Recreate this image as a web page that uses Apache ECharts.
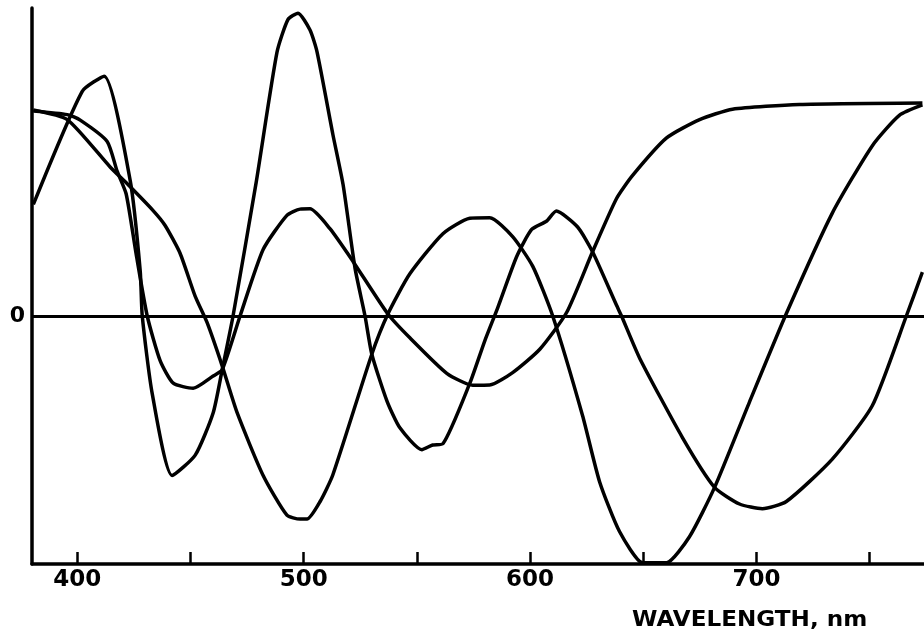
<!DOCTYPE html>
<html>
<head>
<meta charset="utf-8">
<script src="https://cdn.jsdelivr.net/npm/echarts@6/dist/echarts.min.js"></script>
<style>
  html, body { margin: 0; padding: 0; background: #fff; }
  #chart { width: 924px; height: 640px; }
</style>
</head>
<body>
<div id="chart"></div>
<script>
// wavelength (nm), relative amplitude (0 = zero line, -1 = bottom axis)
const curveA = [
  [380.6, 0.45], [402.2, 0.906], [411.9, 0.967], [423.4, 0.545], [427.8, 0.182], [428.7, 0.0],
  [433.1, -0.313], [441.9, -0.643], [452.1, -0.561], [460.0, -0.391], [464.0, -0.217],
  [468.8, 0.0], [479.0, 0.538], [488.2, 1.063], [493.1, 1.196], [497.5, 1.221], [502.8, 1.153],
  [505.9, 1.065], [512.9, 0.732], [517.4, 0.53], [522.7, 0.192], [527.1, 0.0], [530.1, -0.154],
  [536.8, -0.343], [542.5, -0.451], [552.2, -0.539], [557.0, -0.52], [561.5, -0.515],
  [573.4, -0.271], [580.0, -0.10], [585.7, 0.033], [594.1, 0.24], [600.7, 0.349],
  [607.2, 0.382], [611.6, 0.423], [621.0, 0.359], [627.6, 0.259], [638.2, 0.043],
  [640.4, 0.0], [648.4, -0.17], [667.3, -0.49], [681.5, -0.691], [692.5, -0.758],
  [702.6, -0.777], [713.2, -0.748], [733.5, -0.577], [751.2, -0.361], [766.2, 0.0],
  [773.3, 0.177]
];
const curveB = [
  [380.6, 0.831], [395.6, 0.792], [414.6, 0.6], [422.5, 0.529], [433.5, 0.425],
  [438.8, 0.365], [445.4, 0.253], [452.1, 0.079], [457.4, -0.028], [464.0, -0.201],
  [470.6, -0.39], [482.1, -0.643], [492.6, -0.803], [498.4, -0.819], [501.5, -0.819],
  [507.2, -0.749], [512.9, -0.64], [530.1, -0.154], [537.2, 0.008], [546.9, 0.17],
  [561.5, 0.332], [573.4, 0.394], [582.2, 0.396], [592.3, 0.32], [601.2, 0.2], [610.0, 0.0],
  [623.2, -0.402], [630.7, -0.668], [639.5, -0.869], [649.7, -0.995], [655.0, -0.995],
  [660.3, -0.995], [670.4, -0.89], [681.5, -0.691], [696.9, -0.347], [713.2, 0.01],
  [733.5, 0.415], [751.2, 0.687], [763.1, 0.809], [773.3, 0.851]
];
const curveC = [
  [380.6, 0.827], [395.6, 0.812], [401.3, 0.79], [413.2, 0.704], [417.6, 0.584],
  [421.6, 0.492], [426.0, 0.25], [430.9, 0.0], [436.6, -0.18], [442.4, -0.271],
  [451.2, -0.291], [460.0, -0.242], [464.0, -0.217], [471.9, 0.0], [482.1, 0.268],
  [492.6, 0.406], [498.4, 0.431], [502.8, 0.432], [511.6, 0.352], [521.8, 0.22],
  [537.2, 0.008], [546.9, -0.088], [563.2, -0.231], [574.7, -0.279], [582.2, -0.278],
  [592.3, -0.228], [604.3, -0.134], [616.2, 0.015], [627.6, 0.259], [638.2, 0.474],
  [645.3, 0.567], [660.3, 0.718], [674.9, 0.792], [689.4, 0.834], [719.0, 0.853],
  [773.3, 0.859]
];
const tickValues = [400, 450, 500, 550, 600, 650, 700, 750];
const labelValues = [400, 500, 600, 700];
const yLabelValues = [0];
const axisTitle = 'WAVELENGTH, nm';

const chart = echarts.init(document.getElementById('chart'));

const lineSeries = (data) => ({
  type: 'line',
  data: data,
  showSymbol: false,
  smooth: 0.2,
  clip: false,
  lineStyle: { color: '#000', width: 3.5, join: 'round' },
  silent: true
});

const series = [curveA, curveB, curveC].map(lineSeries);
// zero line
series[0].markLine = {
  silent: true,
  symbol: 'none',
  label: { show: false },
  lineStyle: { color: '#000', width: 3, type: 'solid' },
  data: [{ yAxis: 0 }]
};

const option = {
  backgroundColor: '#fff',
  animation: false,
  grid: { left: 32, right: 0, top: 8, bottom: 76 },
  xAxis: {
    type: 'value',
    min: 380,
    max: 774,
    axisLine: { show: true, onZero: false, lineStyle: { color: '#000', width: 3.5 } },
    axisTick: {
      show: true, inside: true, length: 12, customValues: tickValues,
      lineStyle: { color: '#000', width: 2.5 }
    },
    axisLabel: {
      customValues: labelValues,
      margin: 5,
      color: '#000',
      fontFamily: 'DejaVu Sans',
      fontWeight: 'bold',
      fontSize: 23
    },
    splitLine: { show: false }
  },
  yAxis: {
    type: 'value',
    min: -1,
    max: 1.242,
    axisLine: { show: true, onZero: false, lineStyle: { color: '#000', width: 3.5 } },
    axisTick: { show: false },
    axisLabel: {
      customValues: yLabelValues,
      margin: 7,
      color: '#000',
      fontFamily: 'DejaVu Sans',
      fontWeight: 'bold',
      fontSize: 22
    },
    splitLine: { show: false }
  },
  graphic: [{
    type: 'text',
    left: 632,
    top: 610,
    scaleX: 1.1,
    style: {
      text: axisTitle,
      fill: '#000',
      font: 'bold 21px "DejaVu Sans"'
    }
  }],
  series: series
};

chart.setOption(option);
</script>
</body>
</html>
